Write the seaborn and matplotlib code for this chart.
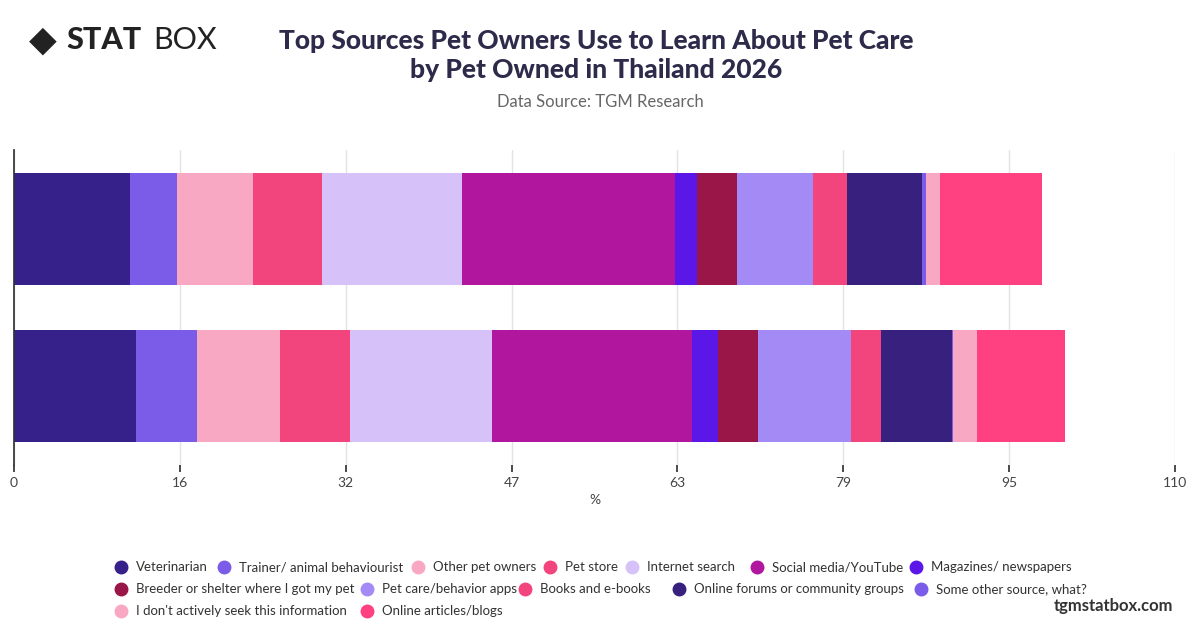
import numpy as np
import pandas as pd
import seaborn as sns
import matplotlib
matplotlib.use("Agg")
import matplotlib.pyplot as plt

categories = ["Cat", "Dog"]
sources = ["Veterinarian", "Trainer/ animal behaviourist", "Other pet owners", "Pet store",
           "Internet search", "Social media/YouTube", "Magazines/ newspapers",
           "Breeder or shelter where I got my pet", "Pet care/behavior apps", "Books and e-books",
           "Online forums or community groups", "Some other source, what?",
           "I don't actively seek this information", "Online articles/blogs"]
values_cat = [11.0, 4.4, 7.2, 6.6, 13.2, 20.2, 2.1, 3.8, 7.2, 3.2, 7.1, 0.4, 1.3, 9.7]
values_dog = [11.6, 5.7, 7.9, 6.6, 13.5, 18.9, 2.5, 3.8, 8.8, 2.8, 6.8, 0.1, 2.2, 8.4]
colors = ["#36208A", "#7B5CE8", "#F9A8C4", "#F2457E", "#D6C2F8", "#B0179E", "#5B17E8",
          "#9A1548", "#A48AF5", "#F2457E", "#38207F", "#7B5CE8", "#F9A8C4", "#FF4081"]
ticks = [0, 16, 32, 47, 63, 79, 95, 110]

sns.set_theme(style="white")
plt.rcParams['font.family'] = ['Lato', 'DejaVu Sans']

fig = plt.figure(figsize=(12, 6.28), dpi=100)
ax = fig.add_axes([14/1200, 1-465/628, 1161/1200, 315/628])

cum = np.cumsum(np.array([values_cat, values_dog]), axis=1)
for i in range(len(sources) - 1, -1, -1):
    df = pd.DataFrame({"cat": categories, "v": cum[:, i]})
    sns.barplot(data=df, x="v", y="cat", color=colors[i], width=0.71, ax=ax,
                saturation=1, linewidth=0, orient="h")

ax.set_xlim(0, 110)
ax.set_xticks(np.linspace(0, 110, 8))
ax.set_xticklabels([str(t) for t in ticks], fontsize=10, color="#444444")
ax.set_yticks([])
ax.set_ylabel("")
ax.set_xlabel("%", fontsize=10, color="#444444")
ax.grid(axis="x", color="#e3e3e3", linewidth=1)
ax.set_axisbelow(True)
for s in ["top", "right", "bottom"]:
    ax.spines[s].set_visible(False)
ax.spines["left"].set_color("#333333")
ax.tick_params(axis="x", length=5, color="#333333", bottom=True)

fig.text(0.497, 0.912, "Top Sources Pet Owners Use to Learn About Pet Care\nby Pet Owned in Thailand 2026",
         ha="center", va="center", fontsize=19, fontweight="black", color="#2d2a4a", linespacing=1.25)
fig.text(0.5, 0.838, "Data Source: TGM Research", ha="center", va="center", fontsize=12, color="#666666")
fig.text(0.055, 0.936, "STAT", ha="left", va="center", fontsize=22, fontweight="black", color="#222222")
fig.text(0.128, 0.936, "BOX", ha="left", va="center", fontsize=22, color="#222222")
fig.text(0.036, 0.936, "◆", ha="center", va="center", fontsize=26, color="#222222")
fig.text(0.978, 0.035, "tgmstatbox.com", ha="right", va="center", fontsize=12, fontweight="bold", color="#333333")

rows = [[121, 224, 418, 550, 632, 757, 916], [121, 367, 525, 679, 921], [121, 367]]
ys = [567, 589, 611]
k = 0
for r, xs in enumerate(rows):
    for x in xs:
        fig.lines.append(plt.Line2D([x/1200], [1-ys[r]/628], transform=fig.transFigure, marker="o",
                                    markersize=9, color=colors[k], linestyle="none"))
        fig.text((x+15)/1200, 1-ys[r]/628, sources[k], ha="left", va="center", fontsize=9.5, color="#333333")
        k += 1

fig.savefig("out.png", dpi=100)
